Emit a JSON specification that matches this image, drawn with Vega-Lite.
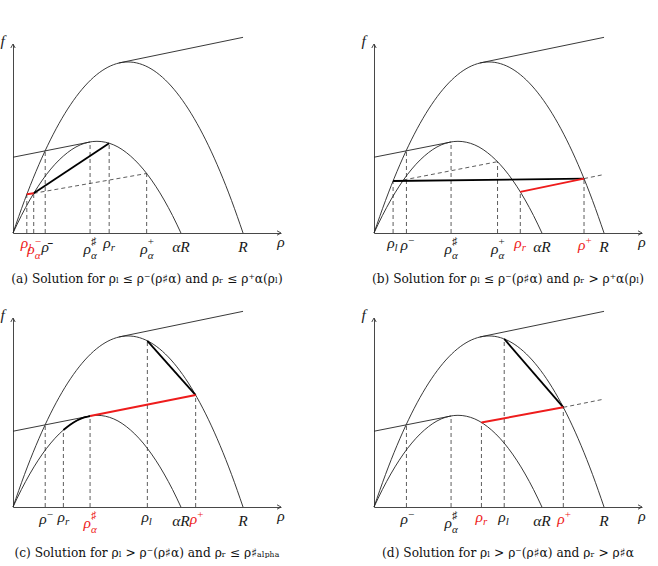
{
"$schema":"https://vega.github.io/schema/vega-lite/v6.json",
"background":"white",
"padding":{"left":0,"top":33,"right":0,"bottom":0},
"config":{"view":{"stroke":null}},
"data":{"values":[
{"p":"a","t":"S","id":"B","s":"curve","x":0,"y":0},{"p":"a","t":"S","id":"B","s":"curve","x":0.05,"y":0.19},{"p":"a","t":"S","id":"B","s":"curve","x":0.1,"y":0.36},{"p":"a","t":"S","id":"B","s":"curve","x":0.2,"y":0.64},{"p":"a","t":"S","id":"B","s":"curve","x":0.3,"y":0.84},{"p":"a","t":"S","id":"B","s":"curve","x":0.4,"y":0.96},{"p":"a","t":"S","id":"B","s":"curve","x":0.5,"y":1},{"p":"a","t":"S","id":"B","s":"curve","x":0.6,"y":0.96},{"p":"a","t":"S","id":"B","s":"curve","x":0.7,"y":0.84},{"p":"a","t":"S","id":"B","s":"curve","x":0.8,"y":0.64},{"p":"a","t":"S","id":"B","s":"curve","x":0.9,"y":0.36},{"p":"a","t":"S","id":"B","s":"curve","x":0.95,"y":0.19},{"p":"a","t":"S","id":"B","s":"curve","x":1,"y":0},
{"p":"a","t":"S","id":"Sm","s":"curve","x":0,"y":0},{"p":"a","t":"S","id":"Sm","s":"curve","x":0.0365,"y":0.102},{"p":"a","t":"S","id":"Sm","s":"curve","x":0.073,"y":0.193},{"p":"a","t":"S","id":"Sm","s":"curve","x":0.146,"y":0.343},{"p":"a","t":"S","id":"Sm","s":"curve","x":0.219,"y":0.45},{"p":"a","t":"S","id":"Sm","s":"curve","x":0.292,"y":0.515},{"p":"a","t":"S","id":"Sm","s":"curve","x":0.365,"y":0.536},{"p":"a","t":"S","id":"Sm","s":"curve","x":0.438,"y":0.515},{"p":"a","t":"S","id":"Sm","s":"curve","x":0.511,"y":0.45},{"p":"a","t":"S","id":"Sm","s":"curve","x":0.584,"y":0.343},{"p":"a","t":"S","id":"Sm","s":"curve","x":0.657,"y":0.193},{"p":"a","t":"S","id":"Sm","s":"curve","x":0.6935,"y":0.102},{"p":"a","t":"S","id":"Sm","s":"curve","x":0.73,"y":0},
{"p":"a","t":"S","id":"T","s":"curve","x":0.46,"y":0.994},{"p":"a","t":"S","id":"T","s":"curve","x":1,"y":1.144},
{"p":"a","t":"S","id":"Lf","s":"curve","x":0,"y":0.443},{"p":"a","t":"S","id":"Lf","s":"curve","x":0.335,"y":0.532},
{"p":"b","t":"S","id":"B","s":"curve","x":0,"y":0},{"p":"b","t":"S","id":"B","s":"curve","x":0.05,"y":0.19},{"p":"b","t":"S","id":"B","s":"curve","x":0.1,"y":0.36},{"p":"b","t":"S","id":"B","s":"curve","x":0.2,"y":0.64},{"p":"b","t":"S","id":"B","s":"curve","x":0.3,"y":0.84},{"p":"b","t":"S","id":"B","s":"curve","x":0.4,"y":0.96},{"p":"b","t":"S","id":"B","s":"curve","x":0.5,"y":1},{"p":"b","t":"S","id":"B","s":"curve","x":0.6,"y":0.96},{"p":"b","t":"S","id":"B","s":"curve","x":0.7,"y":0.84},{"p":"b","t":"S","id":"B","s":"curve","x":0.8,"y":0.64},{"p":"b","t":"S","id":"B","s":"curve","x":0.9,"y":0.36},{"p":"b","t":"S","id":"B","s":"curve","x":0.95,"y":0.19},{"p":"b","t":"S","id":"B","s":"curve","x":1,"y":0},
{"p":"b","t":"S","id":"Sm","s":"curve","x":0,"y":0},{"p":"b","t":"S","id":"Sm","s":"curve","x":0.0365,"y":0.102},{"p":"b","t":"S","id":"Sm","s":"curve","x":0.073,"y":0.193},{"p":"b","t":"S","id":"Sm","s":"curve","x":0.146,"y":0.343},{"p":"b","t":"S","id":"Sm","s":"curve","x":0.219,"y":0.45},{"p":"b","t":"S","id":"Sm","s":"curve","x":0.292,"y":0.515},{"p":"b","t":"S","id":"Sm","s":"curve","x":0.365,"y":0.536},{"p":"b","t":"S","id":"Sm","s":"curve","x":0.438,"y":0.515},{"p":"b","t":"S","id":"Sm","s":"curve","x":0.511,"y":0.45},{"p":"b","t":"S","id":"Sm","s":"curve","x":0.584,"y":0.343},{"p":"b","t":"S","id":"Sm","s":"curve","x":0.657,"y":0.193},{"p":"b","t":"S","id":"Sm","s":"curve","x":0.6935,"y":0.102},{"p":"b","t":"S","id":"Sm","s":"curve","x":0.73,"y":0},
{"p":"b","t":"S","id":"T","s":"curve","x":0.46,"y":0.994},{"p":"b","t":"S","id":"T","s":"curve","x":1,"y":1.144},
{"p":"b","t":"S","id":"Lf","s":"curve","x":0,"y":0.443},{"p":"b","t":"S","id":"Lf","s":"curve","x":0.335,"y":0.532},
{"p":"c","t":"S","id":"B","s":"curve","x":0,"y":0},{"p":"c","t":"S","id":"B","s":"curve","x":0.05,"y":0.19},{"p":"c","t":"S","id":"B","s":"curve","x":0.1,"y":0.36},{"p":"c","t":"S","id":"B","s":"curve","x":0.2,"y":0.64},{"p":"c","t":"S","id":"B","s":"curve","x":0.3,"y":0.84},{"p":"c","t":"S","id":"B","s":"curve","x":0.4,"y":0.96},{"p":"c","t":"S","id":"B","s":"curve","x":0.5,"y":1},{"p":"c","t":"S","id":"B","s":"curve","x":0.6,"y":0.96},{"p":"c","t":"S","id":"B","s":"curve","x":0.7,"y":0.84},{"p":"c","t":"S","id":"B","s":"curve","x":0.8,"y":0.64},{"p":"c","t":"S","id":"B","s":"curve","x":0.9,"y":0.36},{"p":"c","t":"S","id":"B","s":"curve","x":0.95,"y":0.19},{"p":"c","t":"S","id":"B","s":"curve","x":1,"y":0},
{"p":"c","t":"S","id":"Sm","s":"curve","x":0,"y":0},{"p":"c","t":"S","id":"Sm","s":"curve","x":0.0365,"y":0.102},{"p":"c","t":"S","id":"Sm","s":"curve","x":0.073,"y":0.193},{"p":"c","t":"S","id":"Sm","s":"curve","x":0.146,"y":0.343},{"p":"c","t":"S","id":"Sm","s":"curve","x":0.219,"y":0.45},{"p":"c","t":"S","id":"Sm","s":"curve","x":0.292,"y":0.515},{"p":"c","t":"S","id":"Sm","s":"curve","x":0.365,"y":0.536},{"p":"c","t":"S","id":"Sm","s":"curve","x":0.438,"y":0.515},{"p":"c","t":"S","id":"Sm","s":"curve","x":0.511,"y":0.45},{"p":"c","t":"S","id":"Sm","s":"curve","x":0.584,"y":0.343},{"p":"c","t":"S","id":"Sm","s":"curve","x":0.657,"y":0.193},{"p":"c","t":"S","id":"Sm","s":"curve","x":0.6935,"y":0.102},{"p":"c","t":"S","id":"Sm","s":"curve","x":0.73,"y":0},
{"p":"c","t":"S","id":"T","s":"curve","x":0.46,"y":0.994},{"p":"c","t":"S","id":"T","s":"curve","x":1,"y":1.144},
{"p":"c","t":"S","id":"Lf","s":"curve","x":0,"y":0.443},{"p":"c","t":"S","id":"Lf","s":"curve","x":0.335,"y":0.532},
{"p":"d","t":"S","id":"B","s":"curve","x":0,"y":0},{"p":"d","t":"S","id":"B","s":"curve","x":0.05,"y":0.19},{"p":"d","t":"S","id":"B","s":"curve","x":0.1,"y":0.36},{"p":"d","t":"S","id":"B","s":"curve","x":0.2,"y":0.64},{"p":"d","t":"S","id":"B","s":"curve","x":0.3,"y":0.84},{"p":"d","t":"S","id":"B","s":"curve","x":0.4,"y":0.96},{"p":"d","t":"S","id":"B","s":"curve","x":0.5,"y":1},{"p":"d","t":"S","id":"B","s":"curve","x":0.6,"y":0.96},{"p":"d","t":"S","id":"B","s":"curve","x":0.7,"y":0.84},{"p":"d","t":"S","id":"B","s":"curve","x":0.8,"y":0.64},{"p":"d","t":"S","id":"B","s":"curve","x":0.9,"y":0.36},{"p":"d","t":"S","id":"B","s":"curve","x":0.95,"y":0.19},{"p":"d","t":"S","id":"B","s":"curve","x":1,"y":0},
{"p":"d","t":"S","id":"Sm","s":"curve","x":0,"y":0},{"p":"d","t":"S","id":"Sm","s":"curve","x":0.0365,"y":0.102},{"p":"d","t":"S","id":"Sm","s":"curve","x":0.073,"y":0.193},{"p":"d","t":"S","id":"Sm","s":"curve","x":0.146,"y":0.343},{"p":"d","t":"S","id":"Sm","s":"curve","x":0.219,"y":0.45},{"p":"d","t":"S","id":"Sm","s":"curve","x":0.292,"y":0.515},{"p":"d","t":"S","id":"Sm","s":"curve","x":0.365,"y":0.536},{"p":"d","t":"S","id":"Sm","s":"curve","x":0.438,"y":0.515},{"p":"d","t":"S","id":"Sm","s":"curve","x":0.511,"y":0.45},{"p":"d","t":"S","id":"Sm","s":"curve","x":0.584,"y":0.343},{"p":"d","t":"S","id":"Sm","s":"curve","x":0.657,"y":0.193},{"p":"d","t":"S","id":"Sm","s":"curve","x":0.6935,"y":0.102},{"p":"d","t":"S","id":"Sm","s":"curve","x":0.73,"y":0},
{"p":"d","t":"S","id":"T","s":"curve","x":0.46,"y":0.994},{"p":"d","t":"S","id":"T","s":"curve","x":1,"y":1.144},
{"p":"d","t":"S","id":"Lf","s":"curve","x":0,"y":0.443},{"p":"d","t":"S","id":"Lf","s":"curve","x":0.335,"y":0.532},

{"p":"a","t":"S","id":"K","s":"path","x":0.09,"y":0.232},{"p":"a","t":"S","id":"K","s":"path","x":0.418,"y":0.525},
{"p":"a","t":"S","id":"D","s":"aux","x":0.09,"y":0.232},{"p":"a","t":"S","id":"D","s":"aux","x":0.581,"y":0.348},
{"p":"a","t":"S","id":"Q","s":"sol","x":0.06,"y":0.226},{"p":"a","t":"S","id":"Q","s":"sol","x":0.09,"y":0.232},
{"p":"b","t":"S","id":"K","s":"path","x":0.083,"y":0.304},{"p":"b","t":"S","id":"K","s":"path","x":0.913,"y":0.318},
{"p":"b","t":"S","id":"D","s":"aux","x":0.128,"y":0.31},{"p":"b","t":"S","id":"D","s":"aux","x":0.537,"y":0.417},
{"p":"b","t":"S","id":"E","s":"aux","x":0.913,"y":0.318},{"p":"b","t":"S","id":"E","s":"aux","x":1.0,"y":0.342},
{"p":"b","t":"S","id":"Q","s":"sol","x":0.636,"y":0.2405},{"p":"b","t":"S","id":"Q","s":"sol","x":0.913,"y":0.318},
{"p":"c","t":"S","id":"K","s":"path","x":0.584,"y":0.9718},{"p":"c","t":"S","id":"K","s":"path","x":0.794,"y":0.6543},
{"p":"c","t":"S","id":"K2","s":"path","x":0.219,"y":0.45},{"p":"c","t":"S","id":"K2","s":"path","x":0.25,"y":0.4828},{"p":"c","t":"S","id":"K2","s":"path","x":0.28,"y":0.5069},{"p":"c","t":"S","id":"K2","s":"path","x":0.31,"y":0.5238},{"p":"c","t":"S","id":"K2","s":"path","x":0.335,"y":0.532},
{"p":"c","t":"S","id":"Q","s":"sol","x":0.335,"y":0.532},{"p":"c","t":"S","id":"Q","s":"sol","x":0.794,"y":0.6543},
{"p":"d","t":"S","id":"K","s":"path","x":0.566,"y":0.9826},{"p":"d","t":"S","id":"K","s":"path","x":0.823,"y":0.5827},
{"p":"d","t":"S","id":"Q","s":"sol","x":0.467,"y":0.4942},{"p":"d","t":"S","id":"Q","s":"sol","x":0.823,"y":0.5827},
{"p":"d","t":"S","id":"E","s":"aux","x":0.823,"y":0.5827},{"p":"d","t":"S","id":"E","s":"aux","x":0.99,"y":0.628},

{"p":"a","t":"V","x":0.06,"y":0.226},{"p":"a","t":"V","x":0.09,"y":0.232},{"p":"a","t":"V","x":0.14,"y":0.481},{"p":"a","t":"V","x":0.335,"y":0.532},{"p":"a","t":"V","x":0.418,"y":0.525},{"p":"a","t":"V","x":0.581,"y":0.348},
{"p":"b","t":"V","x":0.083,"y":0.304},{"p":"b","t":"V","x":0.141,"y":0.4845},{"p":"b","t":"V","x":0.335,"y":0.532},{"p":"b","t":"V","x":0.537,"y":0.417},{"p":"b","t":"V","x":0.636,"y":0.2405},{"p":"b","t":"V","x":0.913,"y":0.318},
{"p":"c","t":"V","x":0.14,"y":0.481},{"p":"c","t":"V","x":0.219,"y":0.45},{"p":"c","t":"V","x":0.335,"y":0.532},{"p":"c","t":"V","x":0.584,"y":0.9718},{"p":"c","t":"V","x":0.794,"y":0.6543},
{"p":"d","t":"V","x":0.141,"y":0.4845},{"p":"d","t":"V","x":0.335,"y":0.532},{"p":"d","t":"V","x":0.467,"y":0.4942},{"p":"d","t":"V","x":0.566,"y":0.9826},{"p":"d","t":"V","x":0.823,"y":0.5827},

{"p":"a","t":"L","x":0.06,"y":0,"m":"ρ","b":"l","u":"","s":"sol"},
{"p":"a","t":"L","x":0.09,"y":0,"m":"ρ","b":"α","u":"−","s":"sol"},
{"p":"a","t":"L","x":0.14,"y":0,"m":"ρ̄","b":"","u":"","s":"lab"},
{"p":"a","t":"L","x":0.335,"y":0,"m":"ρ","b":"α","u":"♯","s":"lab"},
{"p":"a","t":"L","x":0.418,"y":0,"m":"ρ","b":"r","u":"","s":"lab"},
{"p":"a","t":"L","x":0.581,"y":0,"m":"ρ","b":"α","u":"+","s":"lab"},
{"p":"a","t":"L","x":0.73,"y":0,"m":"αR","b":"","u":"","s":"lab"},
{"p":"a","t":"L","x":1.0,"y":0,"m":"R","b":"","u":"","s":"lab"},
{"p":"b","t":"L","x":0.083,"y":0,"m":"ρ","b":"l","u":"","s":"lab"},
{"p":"b","t":"L","x":0.141,"y":0,"m":"ρ","b":"","u":"−","s":"lab"},
{"p":"b","t":"L","x":0.335,"y":0,"m":"ρ","b":"α","u":"♯","s":"lab"},
{"p":"b","t":"L","x":0.537,"y":0,"m":"ρ","b":"α","u":"+","s":"lab"},
{"p":"b","t":"L","x":0.636,"y":0,"m":"ρ","b":"r","u":"","s":"sol"},
{"p":"b","t":"L","x":0.73,"y":0,"m":"αR","b":"","u":"","s":"lab"},
{"p":"b","t":"L","x":0.913,"y":0,"m":"ρ","b":"","u":"+","s":"sol"},
{"p":"b","t":"L","x":1.0,"y":0,"m":"R","b":"","u":"","s":"lab"},
{"p":"c","t":"L","x":0.14,"y":0,"m":"ρ","b":"","u":"−","s":"lab"},
{"p":"c","t":"L","x":0.219,"y":0,"m":"ρ","b":"r","u":"","s":"lab"},
{"p":"c","t":"L","x":0.335,"y":0,"m":"ρ","b":"α","u":"♯","s":"sol"},
{"p":"c","t":"L","x":0.584,"y":0,"m":"ρ","b":"l","u":"","s":"lab"},
{"p":"c","t":"L","x":0.73,"y":0,"m":"αR","b":"","u":"","s":"lab"},
{"p":"c","t":"L","x":0.794,"y":0,"m":"ρ","b":"","u":"+","s":"sol"},
{"p":"c","t":"L","x":1.0,"y":0,"m":"R","b":"","u":"","s":"lab"},
{"p":"d","t":"L","x":0.141,"y":0,"m":"ρ","b":"","u":"−","s":"lab"},
{"p":"d","t":"L","x":0.335,"y":0,"m":"ρ","b":"α","u":"♯","s":"lab"},
{"p":"d","t":"L","x":0.467,"y":0,"m":"ρ","b":"r","u":"","s":"sol"},
{"p":"d","t":"L","x":0.566,"y":0,"m":"ρ","b":"l","u":"","s":"lab"},
{"p":"d","t":"L","x":0.73,"y":0,"m":"αR","b":"","u":"","s":"lab"},
{"p":"d","t":"L","x":0.823,"y":0,"m":"ρ","b":"","u":"+","s":"sol"},
{"p":"d","t":"L","x":1.0,"y":0,"m":"R","b":"","u":"","s":"lab"},

{"p":"a","t":"N","x":1.165,"y":-0.082,"m":"ρ"},{"p":"a","t":"N","x":-0.045,"y":1.094,"m":"f"},
{"p":"b","t":"N","x":1.165,"y":-0.082,"m":"ρ"},{"p":"b","t":"N","x":-0.045,"y":1.094,"m":"f"},
{"p":"c","t":"N","x":1.165,"y":-0.082,"m":"ρ"},{"p":"c","t":"N","x":-0.045,"y":1.094,"m":"f"},
{"p":"d","t":"N","x":1.165,"y":-0.082,"m":"ρ"},{"p":"d","t":"N","x":-0.045,"y":1.094,"m":"f"},

{"p":"a","t":"A","x":1.165,"y":0,"d":"r"},{"p":"a","t":"A","x":0,"y":1.105,"d":"u"},
{"p":"b","t":"A","x":1.165,"y":0,"d":"r"},{"p":"b","t":"A","x":0,"y":1.105,"d":"u"},
{"p":"c","t":"A","x":1.165,"y":0,"d":"r"},{"p":"c","t":"A","x":0,"y":1.105,"d":"u"},
{"p":"d","t":"A","x":1.165,"y":0,"d":"r"},{"p":"d","t":"A","x":0,"y":1.105,"d":"u"}
]},
"facet":{"field":"p","type":"nominal","title":null,"header":{"labelOrient":"bottom","labelFont":"DejaVu Serif","labelFontSize":12.2,"labelColor":"#111","labelPadding":12,
"labelExpr":"datum.value=='a' ? '(a) Solution for ρₗ ≤ ρ⁻(ρ♯α) and ρᵣ ≤ ρ⁺α(ρₗ)\u00a0\u00a0\u00a0\u00a0' : datum.value=='b' ? '(b) Solution for ρₗ ≤ ρ⁻(ρ♯α) and ρᵣ > ρ⁺α(ρₗ)\u00a0\u00a0\u00a0\u00a0\u00a0\u00a0\u00a0\u00a0' : datum.value=='c' ? '(c) Solution for ρₗ > ρ⁻(ρ♯α) and ρᵣ ≤ ρ♯ₐₗₚₕₐ\u00a0\u00a0\u00a0\u00a0' : '(d) Solution for ρₗ > ρ⁻(ρ♯α) and ρᵣ > ρ♯α\u00a0\u00a0'"}},
"columns":2,
"spacing":{"row":22,"column":76},
"resolve":{"axis":{"x":"independent","y":"independent"}},
"spec":{
"width":268,"height":189,
"encoding":{
"x":{"field":"x","type":"quantitative","scale":{"domain":[0,1.165],"nice":false,"zero":false},"axis":{"domain":true,"domainColor":"#333","domainWidth":0.9,"ticks":false,"labels":false,"grid":false,"title":null,"minExtent":0,"maxExtent":0}},
"y":{"field":"y","type":"quantitative","scale":{"domain":[0,1.105],"nice":false,"zero":false},"axis":{"domain":true,"domainColor":"#333","domainWidth":0.9,"ticks":false,"labels":false,"grid":false,"title":null,"minExtent":0,"maxExtent":0}}
},
"layer":[
{"transform":[{"filter":"datum.t=='V'"}],"mark":{"type":"rule","strokeDash":[4,3],"strokeWidth":0.8,"color":"#333"},"encoding":{"y":{"datum":0,"type":"quantitative"},"y2":{"field":"y"}}},
{"transform":[{"filter":"datum.t=='S' && datum.s=='curve'"}],"mark":{"type":"line","interpolate":"monotone","strokeWidth":0.9,"color":"#222"},"encoding":{"detail":{"field":"id"}}},
{"transform":[{"filter":"datum.t=='S' && datum.s=='aux'"}],"mark":{"type":"line","strokeWidth":0.8,"strokeDash":[4,3],"color":"#333"},"encoding":{"detail":{"field":"id"}}},
{"transform":[{"filter":"datum.t=='S' && datum.s=='path'"}],"mark":{"type":"line","interpolate":"monotone","strokeWidth":1.8,"color":"#000"},"encoding":{"detail":{"field":"id"}}},
{"transform":[{"filter":"datum.t=='S' && datum.s=='sol'"}],"mark":{"type":"line","strokeWidth":2,"color":"#ee1c1c"},"encoding":{"detail":{"field":"id"}}},
{"transform":[{"filter":"datum.t=='A'"}],"mark":{"type":"point","filled":false,"strokeWidth":0.9,"color":"#333","size":64,"opacity":1},"encoding":{"shape":{"field":"d","type":"nominal","scale":{"domain":["r","u"],"range":["M-1,-0.55L0,0L-1,0.55","M-0.55,1L0,0L0.55,1"]},"legend":null}}},
{"transform":[{"filter":"datum.t=='N'"}],"mark":{"type":"text","font":"Liberation Serif","fontStyle":"italic","fontSize":15.5,"align":"center","baseline":"alphabetic","color":"#1a1a1a"},"encoding":{"text":{"field":"m"}}},
{"transform":[{"filter":"datum.t=='L' && datum.b=='' && datum.u==''"}],"mark":{"type":"text","font":"Liberation Serif","fontStyle":"italic","fontSize":15.5,"align":"center","baseline":"alphabetic","dy":19},"encoding":{"text":{"field":"m"},"color":{"condition":{"test":"datum.s=='sol'","value":"#ee1c1c"},"value":"#1a1a1a"}}},
{"transform":[{"filter":"datum.t=='L' && datum.b!='' && datum.u==''"}],"mark":{"type":"text","font":"Liberation Serif","fontStyle":"italic","fontSize":15.5,"align":"right","baseline":"alphabetic","dx":1.5,"dy":15},"encoding":{"text":{"field":"m"},"color":{"condition":{"test":"datum.s=='sol'","value":"#ee1c1c"},"value":"#1a1a1a"}}},
{"transform":[{"filter":"datum.t=='L' && datum.b!='' && datum.u==''"}],"mark":{"type":"text","font":"Liberation Serif","fontStyle":"italic","fontSize":11,"align":"left","baseline":"alphabetic","dx":1.5,"dy":18},"encoding":{"text":{"field":"b"},"color":{"condition":{"test":"datum.s=='sol'","value":"#ee1c1c"},"value":"#1a1a1a"}}},
{"transform":[{"filter":"datum.t=='L' && datum.b=='' && datum.u!=''"}],"mark":{"type":"text","font":"Liberation Serif","fontStyle":"italic","fontSize":15.5,"align":"right","baseline":"alphabetic","dx":1.5,"dy":16.5},"encoding":{"text":{"field":"m"},"color":{"condition":{"test":"datum.s=='sol'","value":"#ee1c1c"},"value":"#1a1a1a"}}},
{"transform":[{"filter":"datum.t=='L' && datum.b=='' && datum.u!=''"}],"mark":{"type":"text","font":"Liberation Serif","fontSize":11,"align":"left","baseline":"alphabetic","dx":1.5,"dy":10.5},"encoding":{"text":{"field":"u"},"color":{"condition":{"test":"datum.s=='sol'","value":"#ee1c1c"},"value":"#1a1a1a"}}},
{"transform":[{"filter":"datum.t=='L' && datum.b!='' && datum.u!=''"}],"mark":{"type":"text","font":"Liberation Serif","fontStyle":"italic","fontSize":15.5,"align":"right","baseline":"alphabetic","dx":1,"dy":21},"encoding":{"text":{"field":"m"},"color":{"condition":{"test":"datum.s=='sol'","value":"#ee1c1c"},"value":"#1a1a1a"}}},
{"transform":[{"filter":"datum.t=='L' && datum.b!='' && datum.u!=''"}],"mark":{"type":"text","font":"Liberation Serif","fontSize":11,"align":"left","baseline":"alphabetic","dx":1,"dy":12},"encoding":{"text":{"field":"u"},"color":{"condition":{"test":"datum.s=='sol'","value":"#ee1c1c"},"value":"#1a1a1a"}}},
{"transform":[{"filter":"datum.t=='L' && datum.b!='' && datum.u!=''"}],"mark":{"type":"text","font":"Liberation Serif","fontStyle":"italic","fontSize":11,"align":"left","baseline":"alphabetic","dx":1,"dy":25.5},"encoding":{"text":{"field":"b"},"color":{"condition":{"test":"datum.s=='sol'","value":"#ee1c1c"},"value":"#1a1a1a"}}}
]
}
}
